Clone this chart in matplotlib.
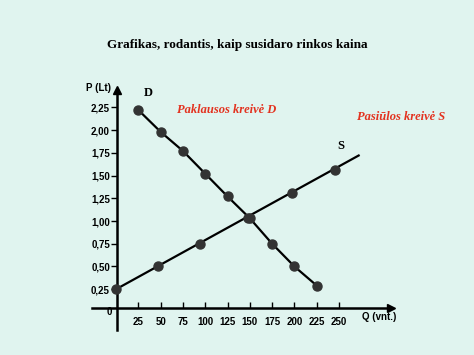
import matplotlib.pyplot as plt

# demand curve D (quantity, price)
demand_q = [25, 50, 75, 100, 125, 150, 175, 200, 225]
demand_p = [2.22, 1.98, 1.77, 1.52, 1.27, 1.03, 0.75, 0.50, 0.29]

# supply curve S: points and the line it sits on
supply_q = [0, 47, 94, 148, 197, 245]
supply_p = [0.25, 0.50, 0.75, 1.03, 1.31, 1.56]
supply_line_q = [0, 272]
supply_line_p = [0.25, 1.72]

x_ticks = [25, 50, 75, 100, 125, 150, 175, 200, 225, 250]
y_ticks = [0.25, 0.50, 0.75, 1.00, 1.25, 1.50, 1.75, 2.00, 2.25]
y_labels = ["0,25", "0,50", "0,75", "1,00", "1,25", "1,50", "1,75", "2,00", "2,25"]

bg = "#e0f4ef"
fig = plt.figure(figsize=(4.74, 3.55), dpi=100, facecolor=bg)
ax = fig.add_axes([0.1688, 0.0282, 0.7173, 0.7746])
ax.set_facecolor(bg)
ax.set_xlim(-40.4, 340.8)
ax.set_ylim(-0.363, 2.66)

# axes
for s in ["top", "right"]:
    ax.spines[s].set_visible(False)
ax.spines["left"].set_position(("data", 1))
ax.spines["bottom"].set_position(("data", 0.04))
ax.spines["left"].set_bounds(-0.2, 2.44)
ax.spines["bottom"].set_bounds(-27, 308)
ax.spines["left"].set_linewidth(1.8)
ax.spines["bottom"].set_linewidth(1.8)
ax.plot(308, 0.04, ">k", markersize=6, clip_on=False)
ax.plot(1, 2.44, "^k", markersize=6, clip_on=False)

ax.set_xticks(x_ticks)
ax.set_xticklabels([str(v) for v in x_ticks], fontsize=7, fontweight="bold",
                   fontfamily="Liberation Sans")
ax.set_yticks(y_ticks)
ax.set_yticklabels(y_labels, fontsize=7, fontweight="bold",
                   fontfamily="Liberation Sans")
ax.tick_params(axis="x", direction="in", length=4, width=1, pad=6)
ax.tick_params(axis="y", direction="out", length=4, width=1, pad=1)

ax.text(-5, 0.0, "0", fontsize=7, fontweight="bold", fontfamily="Liberation Sans",
        ha="right", va="center")
ax.text(276, -0.05, "Q (vnt.)", fontsize=7, fontweight="bold",
        fontfamily="Liberation Sans", ha="left", va="center")
ax.text(-20, 2.46, "P (Lt)", fontsize=7, fontweight="bold",
        fontfamily="Liberation Sans", ha="center", va="center")

# curves
ax.plot(supply_line_q, supply_line_p, color="black", linewidth=1.6, zorder=2)
ax.plot(supply_q, supply_p, "o", color="#333333", markersize=6.5, zorder=3)
ax.plot(demand_q, demand_p, "-", color="black", linewidth=1.6, zorder=2)
ax.plot(demand_q, demand_p, "o", color="#333333", markersize=6.5, zorder=3)

serif = "Liberation Serif"
ax.text(36, 2.41, "D", fontsize=9, fontweight="bold", fontfamily=serif,
        ha="center", va="center")
ax.text(252, 1.82, "S", fontsize=9, fontweight="bold", fontfamily=serif,
        ha="center", va="center")
ax.text(124, 2.22, "Paklausos kreivė D", fontsize=9, fontweight="bold",
        style="italic", fontfamily=serif, color="#e3321f", ha="center", va="center")
ax.text(320, 2.14, "Pasiūlos kreivė S", fontsize=9, fontweight="bold",
        style="italic", fontfamily=serif, color="#e3321f", ha="center", va="center")

fig.text(0.5, 1 - 45 / 355, "Grafikas, rodantis, kaip susidaro rinkos kaina",
         fontsize=9.5, fontweight="bold", fontfamily=serif, ha="center", va="center")

fig.savefig("out.png", dpi=100, facecolor=bg)
